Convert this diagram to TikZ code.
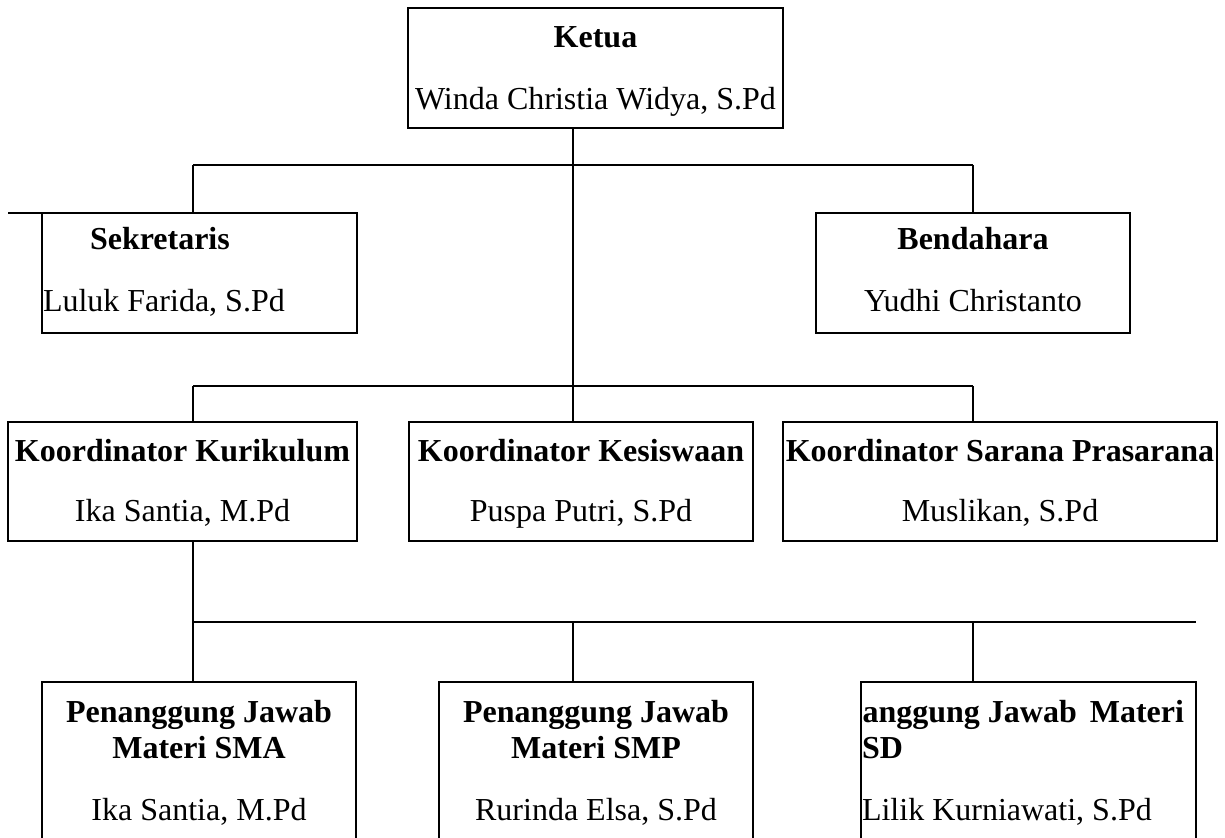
\documentclass[tikz,border=0pt]{standalone}
\usepackage{fontspec}
\setmainfont{Liberation Serif}
\begin{document}
\begin{tikzpicture}[x=0.5pt,y=-0.5pt,
  box/.style={draw, line width=0.8pt, inner sep=0pt, outer sep=0pt},
  link/.style={line width=0.8pt},
  txt/.style={inner sep=0pt, outer sep=0pt, font=\fontsize{16}{19}\selectfont},
  btxt/.style={txt, font=\fontsize{16}{19}\selectfont\bfseries}]
\useasboundingbox (0,0) rectangle (1225,838);
\clip (0,0) rectangle (1225,838);
% boxes
\node[box, minimum width=375pt*0.5, minimum height=120pt*0.5] (ketua) at (595.5,68) {};
\node[box, minimum width=315pt*0.5, minimum height=120pt*0.5] (sek) at (199.5,273) {};
\node[box, minimum width=314pt*0.5, minimum height=120pt*0.5] (bend) at (973,273) {};
\node[box, minimum width=349pt*0.5, minimum height=119pt*0.5] (kur) at (182.5,481.5) {};
\node[box, minimum width=344pt*0.5, minimum height=119pt*0.5] (kes) at (581,481.5) {};
\node[box, minimum width=434pt*0.5, minimum height=119pt*0.5] (sar) at (1000,481.5) {};
\node[box, minimum width=314pt*0.5, minimum height=200pt*0.5] (sma) at (199,782) {};
\node[box, minimum width=314pt*0.5, minimum height=200pt*0.5] (smp) at (596,782) {};
\node[box, minimum width=335pt*0.5, minimum height=200pt*0.5] (sd) at (1028.5,782) {};
% junction coordinates
\coordinate (cL) at (193,165);
\coordinate (cM) at (573,165);
\coordinate (cR) at (973,165);
\coordinate (dL) at (193,386);
\coordinate (dM) at (573,386);
\coordinate (dR) at (973,386);
\coordinate (eL) at (193,622);
\coordinate (eM) at (573,622);
\coordinate (eR) at (973,622);
\coordinate (eEnd) at (1196,622);
\coordinate (s0) at (8,213);
% connectors
\draw[link] (cL) -- (cR);
\draw[link] (cL) -- (cL |- sek.north);
\draw[link] (cR) -- (cR |- bend.north);
\draw[link] (ketua.south -| cM) -- (dM);
\draw[link] (s0) -- (s0 -| sek.west);
\draw[link] (dL) -- (dR);
\draw[link] (dL) -- (dL |- kur.north);
\draw[link] (dM) -- (dM |- kes.north);
\draw[link] (dR) -- (dR |- sar.north);
\draw[link] (kur.south -| eL) -- (eL) -- (eEnd);
\draw[link] (eL) -- (eL |- sma.north);
\draw[link] (eM) -- (eM |- smp.north);
\draw[link] (eR) -- (eR |- sd.north);
% texts
\node[btxt, anchor=base] (t1) at (595.5,48) {Ketua};
\node[txt, anchor=base] (n1) at (595.5,110) {Winda Christia Widya, S.Pd};
\node[btxt, anchor=base west] (t2) at (90,250) {Sekretaris};
\node[txt, anchor=base west] (n2) at (43,312) {Luluk Farida, S.Pd};
\node[btxt, anchor=base] (t3) at (973,250) {Bendahara};
\node[txt, anchor=base] (n3) at (973,312) {Yudhi Christanto};
\node[btxt, anchor=base] (t4) at (182.5,462) {Koordinator Kurikulum};
\node[txt, anchor=base] (n4) at (182.5,522) {Ika Santia, M.Pd};
\node[btxt, anchor=base] (t5) at (581,462) {Koordinator Kesiswaan};
\node[txt, anchor=base] (n5) at (581,522) {Puspa Putri, S.Pd};
\node[btxt, anchor=base] (t6) at (1000,462) {Koordinator Sarana Prasarana};
\node[txt, anchor=base] (n6) at (1000,522) {Muslikan, S.Pd};
\node[btxt, anchor=base] (t7a) at (199,722) {Penanggung Jawab};
\node[btxt, anchor=base] (t7b) at (199,758) {Materi SMA};
\node[txt, anchor=base] (n7) at (199,820) {Ika Santia, M.Pd};
\node[btxt, anchor=base] (t8a) at (596,722) {Penanggung Jawab};
\node[btxt, anchor=base] (t8b) at (596,758) {Materi SMP};
\node[txt, anchor=base] (n8) at (596,820) {Rurinda Elsa, S.Pd};
\begin{scope}
\clip (sd.north west) rectangle (sd.south east);
\node[btxt, anchor=base west] (t9a) at (811,722) {Penanggung Jawab\hspace{2.5pt} Materi};
\end{scope}
\node[btxt, anchor=base west] (t9b) at (862,758) {SD};
\node[txt, anchor=base west] (n9) at (862,820) {Lilik Kurniawati, S.Pd};
\end{tikzpicture}
\end{document}
